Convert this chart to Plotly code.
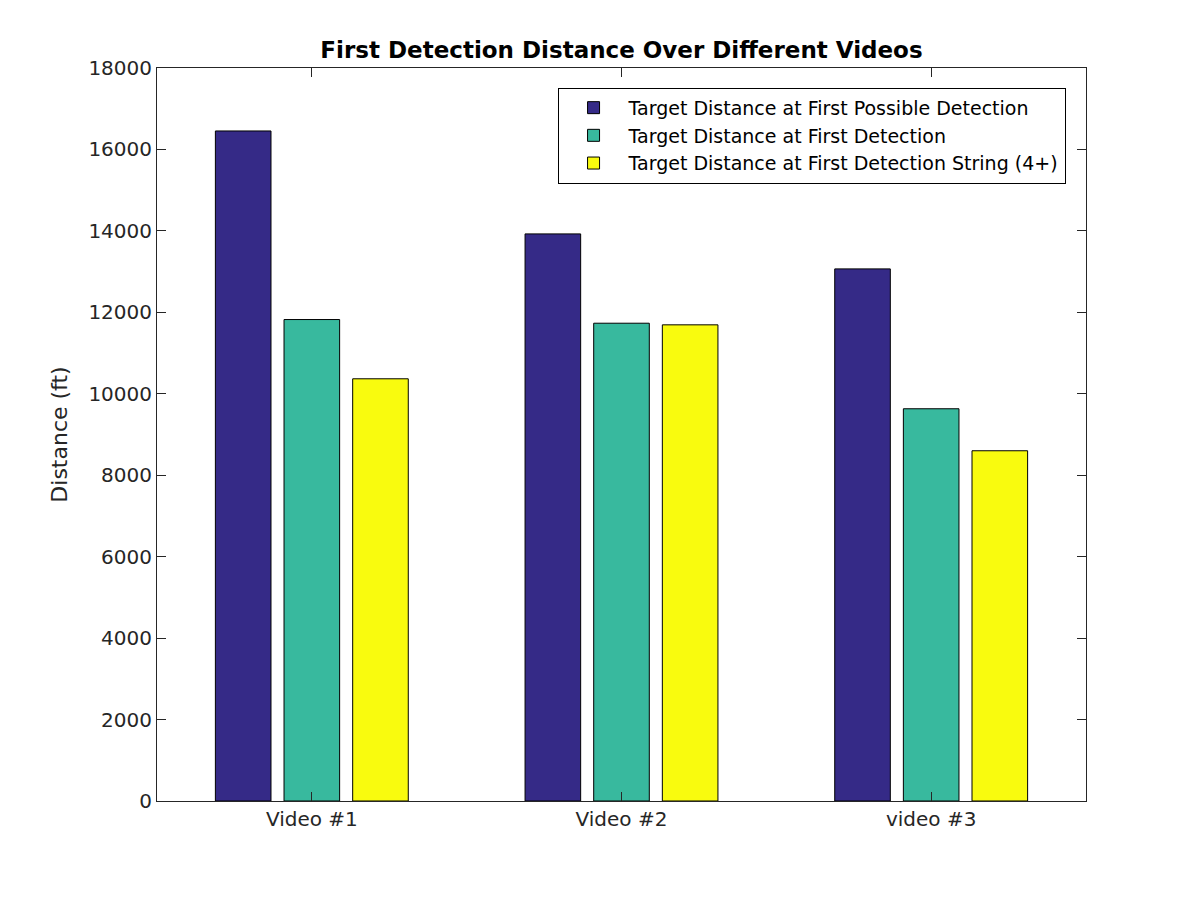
import plotly.graph_objects as go

# Data
videos = ["Video #1", "Video #2", "video #3"]
series_names = [
    "Target Distance at First Possible Detection",
    "Target Distance at First Detection",
    "Target Distance at First Detection String (4+)",
]
first_possible = [16454, 13926, 13067]
first_detection = [11823, 11733, 9632]
first_string = [10368, 11693, 8601]

series_values = [first_possible, first_detection, first_string]
colors = ["#352a87", "#38b99e", "#f9fb0e"]  # parula-like

fig = go.Figure()
for name, vals, col in zip(series_names, series_values, colors):
    fig.add_trace(go.Bar(
        x=videos, y=vals, name=name,
        marker=dict(color=col, line=dict(color="#000000", width=1)),
    ))

axis_col = "#262626"
font_family = "DejaVu Sans"

# page body adds an 8px offset, so margins are shifted to compensate
fig.update_layout(
    width=1200, height=900,
    paper_bgcolor="white", plot_bgcolor="white",
    margin=dict(l=149, r=122, t=60, b=107),
    barmode="group", bargap=0.335, bargroupgap=0.19,
    font=dict(family=font_family, size=20, color=axis_col),
    title=dict(
        text="<b>First Detection Distance Over Different Videos</b>",
        x=(149 + 1078) / 2 / 1200, xanchor="center",
        y=1 - 42 / 900, yanchor="middle",
        font=dict(family=font_family, size=23, color="#000000"),
    ),
    legend=dict(
        x=0.978, xanchor="right", y=0.973, yanchor="top",
        bgcolor="white", bordercolor="#000000", borderwidth=1,
        font=dict(family=font_family, size=19, color="#000000"),
        traceorder="normal", itemwidth=60,
        tracegroupgap=0,
    ),
    showlegend=True,
)

fig.update_xaxes(
    showline=True, linecolor=axis_col, linewidth=1, mirror="ticks",
    ticks="inside", ticklen=9, tickcolor=axis_col,
    showgrid=False, zeroline=False,
    range=[-0.5, 2.5],
    tickfont=dict(size=20, color=axis_col),
)
fig.update_yaxes(
    showline=True, linecolor=axis_col, linewidth=1, mirror="ticks",
    ticks="inside", ticklen=9, tickcolor=axis_col,
    showgrid=False, zeroline=False,
    range=[0, 18000], dtick=2000, tick0=0,
    tickformat="d",
    tickfont=dict(size=20, color=axis_col),
    title=dict(text="Distance (ft)", font=dict(size=22, color=axis_col), standoff=14),
)

fig.write_html("out.html")
